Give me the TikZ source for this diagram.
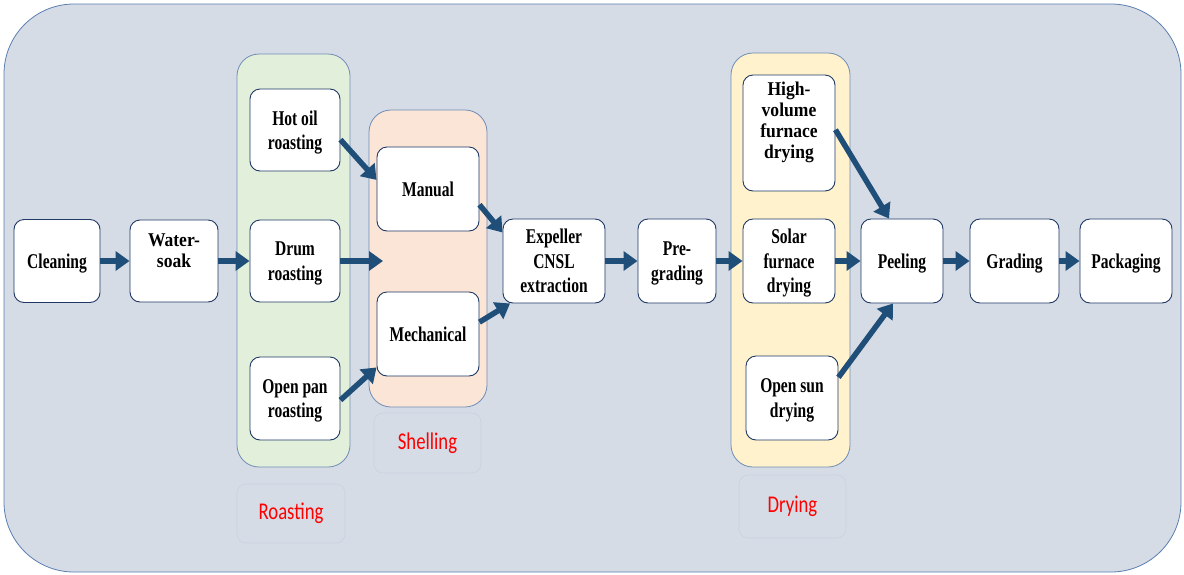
\documentclass[tikz,border=0pt]{standalone}
\usepackage{fontspec}
\setmainfont{Liberation Serif}
\newfontfamily\boxfont{Liberation Serif}[FakeStretch=0.74]
\newfontfamily\widefont{Liberation Serif}[FakeStretch=0.9]
\newfontfamily\tagfont{Carlito}[FakeStretch=0.78]
\usetikzlibrary{arrows.meta}

\definecolor{canvas}{HTML}{D6DCE5}
\definecolor{canvasline}{HTML}{5B7DB0}
\definecolor{boxline}{HTML}{1F3864}
\definecolor{grpline}{HTML}{6F8CB8}
\definecolor{tagline}{HTML}{C9D2E2}
\definecolor{roastfill}{HTML}{E2EFDA}
\definecolor{shellfill}{HTML}{FBE5D6}
\definecolor{dryfill}{HTML}{FFF2CC}
\definecolor{flowc}{HTML}{1F4E79}

\tikzset{
  stepbox/.style={draw=boxline, line width=0.9pt, fill=white, rounded corners=10pt,
    align=center, inner sep=0pt, text depth=0pt,
    font=\boxfont\bfseries\fontsize{21}{24.5}\selectfont},
  widebox/.style={stepbox, font=\widefont\bfseries\fontsize{19.5}{21}\selectfont},
  group/.style={draw=grpline, line width=0.8pt, rounded corners=22pt, inner sep=0pt},
  tagbox/.style={draw=tagline, line width=0.6pt, rounded corners=9pt, inner sep=0pt,
    text=red, font=\tagfont\fontsize{24}{26}\selectfont},
  flow/.style={draw=flowc, line width=5.5pt, -{Triangle[length=14pt,width=19pt]}},
}

\begin{document}
\begin{tikzpicture}[x=1pt,y=-1pt]
  \useasboundingbox (0,0) rectangle (1184,574);
  % background panel
  \fill[canvas, draw=canvasline, line width=0.8pt, rounded corners=70pt]
    (4,4) rectangle (1181,572);

  % stage groups
  \node[group, fill=roastfill, minimum width=113pt, minimum height=413pt] (roast) at (293.5,260.5) {};
  \node[group, fill=shellfill, minimum width=118pt, minimum height=297pt] (shell) at (428,258.5) {};
  \node[group, fill=dryfill, minimum width=119pt, minimum height=414pt] (dry) at (790.5,260) {};

  % group captions
  \node[tagbox, minimum width=108pt, minimum height=59pt] (roasttag) at (291,513.5) {Roasting};
  \node[tagbox, minimum width=107pt, minimum height=60pt] (shelltag) at (427.5,443) {Shelling};
  \node[tagbox, minimum width=107pt, minimum height=63pt] (drytag) at (792.5,506.5) {Drying};

  % process steps
  \node[stepbox, minimum width=86pt, minimum height=83pt] (clean) at (57,261) {Cleaning};
  \node[widebox, minimum width=88pt, minimum height=82pt] (soak) at (174,261) {Water-\\soak\\[0pt]~};
  \node[stepbox, minimum width=90pt, minimum height=82pt] (hot) at (295,130) {Hot oil\\roasting};
  \node[stepbox, minimum width=90pt, minimum height=82pt] (drum) at (295,261) {Drum\\roasting};
  \node[stepbox, minimum width=90pt, minimum height=83pt] (pan) at (295,398.5) {Open pan\\roasting};
  \node[stepbox, minimum width=102pt, minimum height=84pt] (manual) at (428,189) {Manual};
  \node[stepbox, minimum width=102pt, minimum height=84pt] (mech) at (428,334) {Mechanical};
  \node[stepbox, minimum width=102pt, minimum height=84pt] (expel) at (554,261) {Expeller\\CNSL\\extraction};
  \node[stepbox, minimum width=78pt, minimum height=84pt] (pregr) at (677,261) {Pre-\\grading};
  \node[widebox, minimum width=92pt, minimum height=116pt] (hv) at (789,133) {High-\\volume\\furnace\\drying\\[4pt]~};
  \node[stepbox, minimum width=92pt, minimum height=84pt] (solar) at (789,261) {Solar\\furnace\\drying};
  \node[stepbox, minimum width=92pt, minimum height=84pt] (sun) at (792,398) {Open sun\\drying};
  \node[stepbox, minimum width=82pt, minimum height=84pt] (peel) at (902,261) {Peeling};
  \node[stepbox, minimum width=89pt, minimum height=84pt] (grade) at (1014.5,261) {Grading};
  \node[stepbox, minimum width=92pt, minimum height=84pt] (pack) at (1126,261) {Packaging};

  \coordinate (shellin) at (383,261);

  % flow arrows
  \draw[flow] (clean.east) -- (soak.west);
  \draw[flow] (soak.east) -- (drum.west);
  \draw[flow] (drum.east) -- (shellin);
  \draw[flow] (hot.-12) -- (manual.170);
  \draw[flow] (pan.-2) -- (mech.213);
  \draw[flow] (manual.-17) -- (expel.151);
  \draw[flow] (mech.13) -- (expel.224);
  \draw[flow] (expel.east) -- (pregr.west);
  \draw[flow] (pregr.east) -- (solar.west);
  \draw[flow] (hv.4) -- (peel.107);
  \draw[flow] (solar.east) -- (peel.west);
  \draw[flow] (sun.24) -- (peel.258);
  \draw[flow] (peel.east) -- (grade.west);
  \draw[flow] (grade.east) -- (pack.west);
\end{tikzpicture}
\end{document}
